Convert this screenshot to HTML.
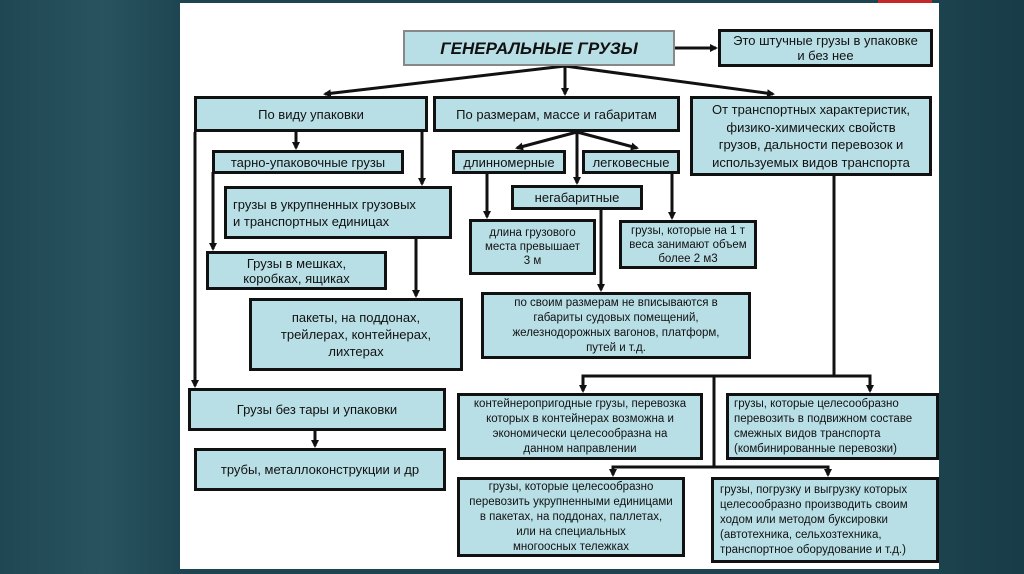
<!DOCTYPE html>
<html><head><meta charset="utf-8"><style>
html,body{margin:0;padding:0}
body{width:1024px;height:574px;position:relative;overflow:hidden;background:linear-gradient(90deg,#1f4753 0%,#28535f 10%,#1d4551 18%,#1d4450 90%,#183c48 100%);font-family:"Liberation Sans","Noto Sans CJK SC",sans-serif}
#panel{position:absolute;left:180px;top:3px;width:759px;height:566px;background:#fff}
#red{position:absolute;left:878px;top:0;width:54px;height:3px;background:#c62828}
.b{position:absolute;box-sizing:border-box;border:3px solid #111;background:#b9dfe6;display:flex;align-items:center;justify-content:center;text-align:center;color:#111;font-size:13px;line-height:15px}
.s{font-size:11.5px;line-height:14px}
svg{position:absolute;left:0;top:0}
</style></head><body>
<div id="panel"></div><div id="red"></div>
<svg width="1024" height="574">
<defs><marker id="a" markerWidth="8" markerHeight="8" refX="6" refY="4" orient="auto" markerUnits="userSpaceOnUse"><path d="M0,0 L8,4 L0,8 z" fill="#111"/></marker></defs>
<g stroke="#111" stroke-width="3" fill="none">
<line x1="675" y1="48" x2="716" y2="48" marker-end="url(#a)"/>
<line x1="565" y1="66" x2="565" y2="94" marker-end="url(#a)"/>
<line x1="565" y1="66" x2="325" y2="94" marker-end="url(#a)"/>
<line x1="565" y1="66" x2="773" y2="94" marker-end="url(#a)"/>
<line x1="195" y1="132" x2="195" y2="386" marker-end="url(#a)"/>
<line x1="296" y1="132" x2="296" y2="148" marker-end="url(#a)"/>
<line x1="422" y1="132" x2="422" y2="184" marker-end="url(#a)"/>
<line x1="213" y1="172" x2="213" y2="249" marker-end="url(#a)"/>
<line x1="416" y1="239" x2="416" y2="296" marker-end="url(#a)"/>
<line x1="577" y1="132" x2="517" y2="148" marker-end="url(#a)"/>
<line x1="577" y1="132" x2="637" y2="148" marker-end="url(#a)"/>
<line x1="577" y1="132" x2="577" y2="183" marker-end="url(#a)"/>
<line x1="487" y1="174" x2="487" y2="217" marker-end="url(#a)"/>
<line x1="672" y1="174" x2="672" y2="218" marker-end="url(#a)"/>
<line x1="601" y1="210" x2="601" y2="290" marker-end="url(#a)"/>
<line x1="315" y1="431" x2="315" y2="446" marker-end="url(#a)"/>
<polyline points="834,176 834,376"/>
<polyline points="583,391 583,376 870,376 870,391"/>
<polyline points="714,376 714,467"/>
<polyline points="613,475 613,467 828,467 828,475"/>
<line x1="583" y1="380" x2="583" y2="391" marker-end="url(#a)"/>
<line x1="870" y1="380" x2="870" y2="391" marker-end="url(#a)"/>
<line x1="613" y1="469" x2="613" y2="475" marker-end="url(#a)"/>
<line x1="828" y1="469" x2="828" y2="475" marker-end="url(#a)"/>
</g></svg>
<div class="b" style="left:403px;top:30px;width:272px;height:36px;border:2px solid #888;font-size:17px;font-weight:bold;font-style:italic">ГЕНЕРАЛЬНЫЕ ГРУЗЫ</div>
<div class="b" style="left:718px;top:29px;width:215px;height:38px">Это штучные грузы в упаковке<br>и без нее</div>
<div class="b" style="left:194px;top:96px;width:234px;height:36px">По виду упаковки</div>
<div class="b" style="left:433px;top:96px;width:247px;height:36px">По размерам, массе и габаритам</div>
<div class="b" style="left:690px;top:96px;width:242px;height:80px;line-height:17.5px">От транспортных характеристик,<br>физико-химических свойств<br>грузов, дальности перевозок и<br>используемых видов транспорта</div>
<div class="b" style="left:212px;top:150px;width:192px;height:24px">тарно-упаковочные грузы</div>
<div class="b" style="left:224px;top:186px;width:228px;height:53px;justify-content:flex-start;text-align:left;padding-left:6px;line-height:17px">грузы в укрупненных грузовых<br>и транспортных единицах</div>
<div class="b" style="left:206px;top:251px;width:181px;height:39px">Грузы в мешках,<br>коробках, ящиках</div>
<div class="b" style="left:249px;top:298px;width:214px;height:73px;line-height:17px">пакеты, на поддонах,<br>трейлерах, контейнерах,<br>лихтерах</div>
<div class="b" style="left:452px;top:150px;width:114px;height:24px">длинномерные</div>
<div class="b" style="left:582px;top:150px;width:98px;height:24px">легковесные</div>
<div class="b" style="left:511px;top:185px;width:132px;height:25px">негабаритные</div>
<div class="b s" style="left:469px;top:219px;width:127px;height:56px">длина грузового<br>места превышает<br>3 м</div>
<div class="b s" style="left:619px;top:220px;width:138px;height:49px">грузы, которые на 1 т<br>веса занимают объем<br>более 2 м3</div>
<div class="b s" style="left:481px;top:292px;width:270px;height:67px;line-height:15px">по своим размерам не вписываются в<br>габариты судовых помещений,<br>железнодорожных вагонов, платформ,<br>путей и т.д.</div>
<div class="b" style="left:188px;top:388px;width:258px;height:43px">Грузы без тары и упаковки</div>
<div class="b" style="left:194px;top:448px;width:252px;height:43px">трубы, металлоконструкции и др</div>
<div class="b s" style="left:457px;top:393px;width:246px;height:67px;line-height:15px">контейнеропригодные грузы, перевозка<br>которых в контейнерах возможна и<br>экономически целесообразна на<br>данном направлении</div>
<div class="b s" style="left:726px;top:393px;width:213px;height:67px;line-height:15px;justify-content:flex-start;text-align:left;padding-left:5px">грузы, которые целесообразно<br>перевозить в подвижном составе<br>смежных видов транспорта<br>(комбинированные перевозки)</div>
<div class="b s" style="left:457px;top:477px;width:228px;height:80px;line-height:15px">грузы, которые целесообразно<br>перевозить укрупненными единицами<br>в пакетах, на поддонах, паллетах,<br>или на специальных<br>многоосных тележках</div>
<div class="b s" style="left:711px;top:477px;width:228px;height:86px;line-height:15px;justify-content:flex-start;text-align:left;padding-left:6px">грузы, погрузку и выгрузку которых<br>целесообразно производить своим<br>ходом или методом буксировки<br>(автотехника, сельхозтехника,<br>транспортное оборудование и т.д.)</div>
</body></html>
